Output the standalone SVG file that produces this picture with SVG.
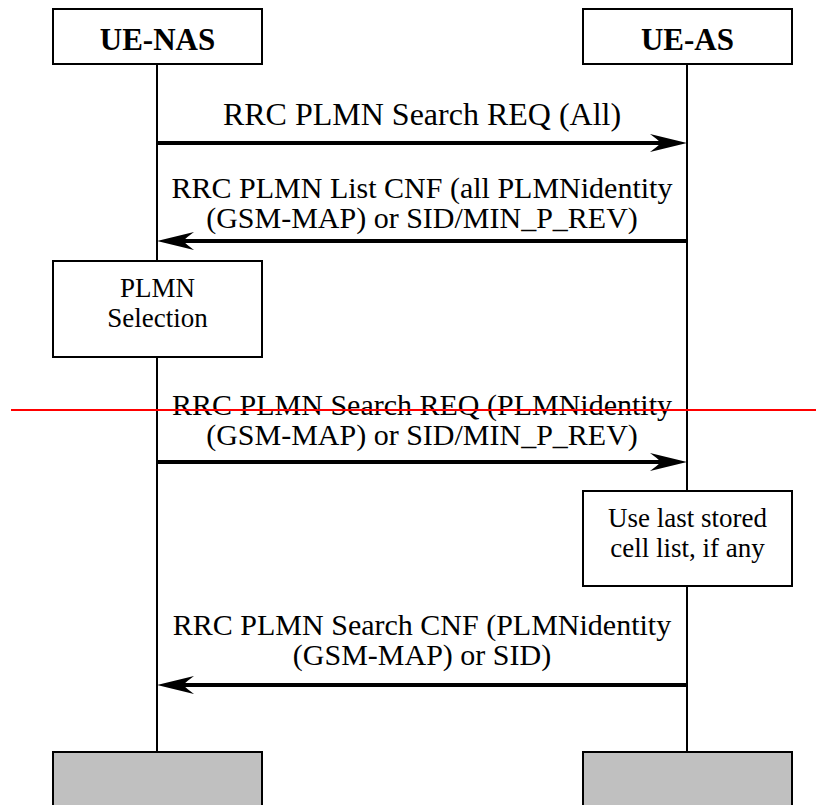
<svg xmlns="http://www.w3.org/2000/svg" width="816" height="805" viewBox="0 0 816 805">
  <defs>
    <style>
      .box { fill: #ffffff; stroke: #000000; stroke-width: 2; }
      .end { fill: #c0c0c0; stroke: #000000; stroke-width: 2; }
      .life { stroke: #000000; stroke-width: 2; fill: none; }
      .msg { stroke: #000000; stroke-width: 4; fill: none; }
      .head { fill: #000000; stroke: none; }
      .title { font-family: "Liberation Serif", "Times New Roman", serif; font-weight: bold; font-size: 31px; text-anchor: middle; fill: #000000; }
      .lbl { font-family: "Liberation Serif", "Times New Roman", serif; font-size: 30px; text-anchor: middle; fill: #000000; }
      .big { font-size: 32px; }
      .note { font-family: "Liberation Serif", "Times New Roman", serif; font-size: 27px; text-anchor: middle; fill: #000000; }
    </style>
  </defs>
  <rect width="816" height="805" fill="#ffffff"/>

  <!-- lifelines -->
  <g id="lifelines">
    <line class="life" x1="157" y1="64" x2="157" y2="752"/>
    <line class="life" x1="687" y1="64" x2="687" y2="752"/>
  </g>

  <!-- participants -->
  <g id="ue-nas">
    <rect class="box" x="53" y="9" width="209" height="55"/>
    <text class="title" x="157.5" y="50">UE-NAS</text>
  </g>
  <g id="ue-as">
    <rect class="box" x="583" y="9" width="209" height="55"/>
    <text class="title" x="687.5" y="50">UE-AS</text>
  </g>

  <!-- local actions -->
  <g id="plmn-selection">
    <rect class="box" x="53" y="261" width="209" height="96"/>
    <text class="note" x="157.5" y="297">PLMN</text>
    <text class="note" x="157.5" y="327">Selection</text>
  </g>
  <g id="use-last-stored">
    <rect class="box" x="583" y="491" width="209" height="95"/>
    <text class="note" x="687.5" y="527">Use last stored</text>
    <text class="note" x="687.5" y="557">cell list, if any</text>
  </g>

  <!-- lifeline ends -->
  <g id="ue-nas-end">
    <rect class="end" x="53" y="752" width="209" height="60"/>
  </g>
  <g id="ue-as-end">
    <rect class="end" x="583" y="752" width="209" height="60"/>
  </g>

  <!-- messages -->
  <g id="connectors">
    <g id="msg1">
      <line class="msg" x1="157" y1="143" x2="665" y2="143"/>
      <path class="head" d="M687,143 L650,134 Q657,139 661,143 Q657,147 650,152 Z"/>
      <text class="lbl big" x="422" y="125">RRC PLMN Search REQ (All)</text>
    </g>
    <g id="msg2">
      <line class="msg" x1="687" y1="241" x2="179" y2="241"/>
      <path class="head" d="M157,241 L194,232 Q187,237 183,241 Q187,245 194,250 Z"/>
      <text class="lbl" x="422" y="198">RRC PLMN List CNF (all PLMNidentity</text>
      <text class="lbl" x="422" y="228">(GSM-MAP) or SID/MIN_P_REV)</text>
    </g>
    <g id="msg3">
      <line class="msg" x1="157" y1="462" x2="665" y2="462"/>
      <path class="head" d="M687,462 L650,453 Q657,458 661,462 Q657,466 650,471 Z"/>
      <text class="lbl" x="422" y="415">RRC PLMN Search REQ (PLMNidentity</text>
      <text class="lbl" x="422" y="445">(GSM-MAP) or SID/MIN_P_REV)</text>
    </g>
    <g id="msg4">
      <line class="msg" x1="687" y1="685" x2="179" y2="685"/>
      <path class="head" d="M157,685 L194,676 Q187,681 183,685 Q187,689 194,694 Z"/>
      <text class="lbl" x="422" y="635">RRC PLMN Search CNF (PLMNidentity</text>
      <text class="lbl" x="422" y="665">(GSM-MAP) or SID)</text>
    </g>
  </g>

  <!-- marker line -->
  <line x1="11" y1="410" x2="816" y2="410" stroke="#ff0000" stroke-width="2"/>
</svg>
